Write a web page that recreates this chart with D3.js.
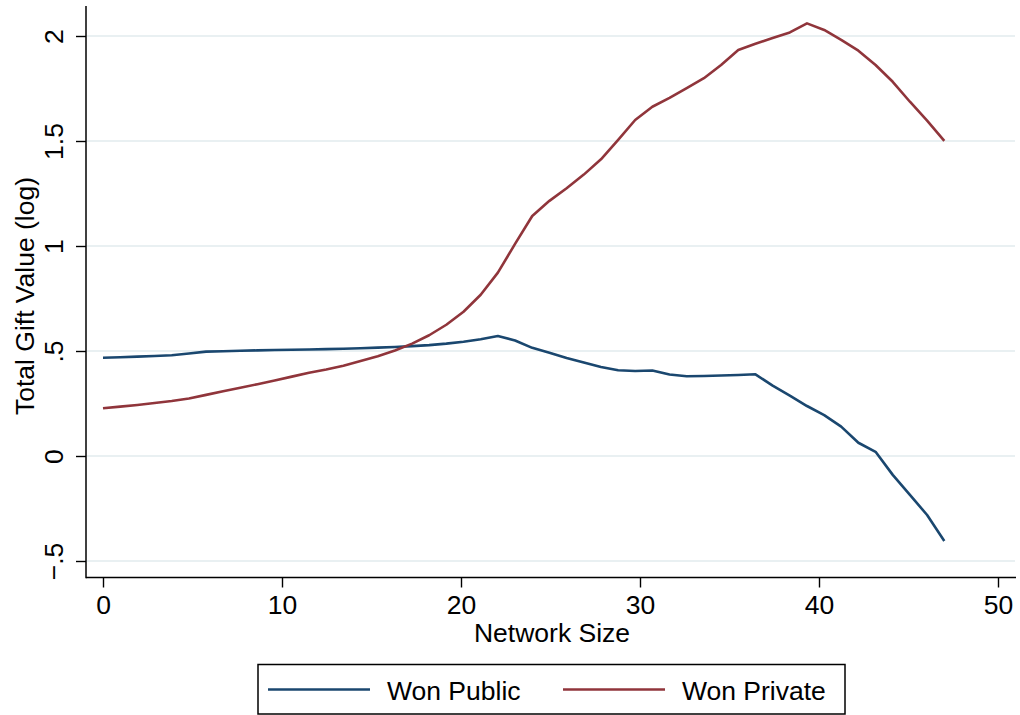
<!DOCTYPE html>
<html>
<head>
<meta charset="utf-8">
<script src="https://cdn.jsdelivr.net/npm/d3@7/dist/d3.min.js"></script>
<style>
  html, body { margin: 0; padding: 0; background: #fff; }
  svg { display: block; }
  text { font-family: "Liberation Sans", Arial, Helvetica, sans-serif; fill: #000; }
</style>
</head>
<body>
<svg id="chart" width="1020" height="715"></svg>
<script>
// Smoothed total gift value (log) by network size, evaluated on a 50-point grid
const networkSize = [
  0.00, 0.96, 1.92, 2.88, 3.84, 4.80, 5.76, 6.71, 7.67, 8.63,
  9.59, 10.55, 11.51, 12.47, 13.43, 14.39, 15.35, 16.31, 17.27, 18.22,
  19.18, 20.14, 21.10, 22.06, 23.02, 23.98, 24.94, 25.90, 26.86, 27.82,
  28.78, 29.73, 30.69, 31.65, 32.61, 33.57, 34.53, 35.49, 36.45, 37.41,
  38.37, 39.33, 40.29, 41.24, 42.20, 43.16, 44.12, 45.08, 46.04, 47.00
];

const wonPublic = [
  0.468, 0.470, 0.473, 0.476, 0.480, 0.488, 0.497, 0.499, 0.501, 0.503,
  0.505, 0.506, 0.507, 0.509, 0.511, 0.513, 0.516, 0.519, 0.523, 0.528,
  0.535, 0.544, 0.556, 0.571, 0.550, 0.515, 0.492, 0.467, 0.445, 0.424,
  0.408, 0.405, 0.407, 0.388, 0.380, 0.381, 0.383, 0.386, 0.389, 0.335,
  0.288, 0.238, 0.195, 0.140, 0.063, 0.020, -0.090, -0.185, -0.281, -0.405
];

const wonPrivate = [
  0.227, 0.235, 0.243, 0.252, 0.262, 0.274, 0.291, 0.308, 0.325, 0.342,
  0.360, 0.378, 0.396, 0.412, 0.430, 0.452, 0.475, 0.502, 0.535, 0.575,
  0.625, 0.687, 0.768, 0.873, 1.010, 1.143, 1.215, 1.275, 1.340, 1.413,
  1.505, 1.600, 1.663, 1.705, 1.752, 1.799, 1.862, 1.933, 1.963, 1.990,
  2.017, 2.060, 2.029, 1.982, 1.930, 1.862, 1.782, 1.687, 1.597, 1.501
];

const seriesNames = ["Won Public", "Won Private"];
const seriesColors = ["#1a476f", "#90353b"];

const xTicks = [0, 10, 20, 30, 40, 50];
const yTicks = [-0.5, 0, 0.5, 1, 1.5, 2];
const yTickLabels = ["\u2212.5", "0", ".5", "1", "1.5", "2"];

const xTitle = "Network Size";
const yTitle = "Total Gift Value (log)";

const FONT = 26.5;

const svg = d3.select("#chart");

// plot region edges (axis lines)
const axisLeft = 86, axisBottom = 577.5, axisTop = 6, axisRight = 1016;

const x = d3.scaleLinear().domain([0, 50]).range([103, 998]);
const y = d3.scaleLinear().domain([-0.5, 2]).range([561, 36]);

// horizontal gridlines
svg.append("g")
  .selectAll("line")
  .data(yTicks)
  .join("line")
  .attr("x1", axisLeft + 1).attr("x2", axisRight - 1)
  .attr("y1", d => y(d)).attr("y2", d => y(d))
  .attr("stroke", "#e9f0f2")
  .attr("stroke-width", 2);

// y axis
const yAxis = svg.append("g")
  .attr("transform", `translate(${axisLeft},0)`)
  .call(d3.axisLeft(y).tickValues(yTicks).tickSize(10).tickFormat((d, i) => yTickLabels[i]));
yAxis.select(".domain").remove();
yAxis.selectAll(".tick line").attr("stroke", "#000").attr("stroke-width", 1.4);
yAxis.selectAll(".tick text")
  .attr("font-size", FONT)
  .attr("font-family", "Liberation Sans, Arial, sans-serif")
  .attr("text-anchor", "middle")
  .attr("dy", null)
  .attr("x", null)
  .attr("transform", "translate(-23,0) rotate(-90)")
  .attr("y", 0);
svg.append("line")
  .attr("x1", axisLeft).attr("x2", axisLeft)
  .attr("y1", axisTop).attr("y2", axisBottom + 0.7)
  .attr("stroke", "#000").attr("stroke-width", 1.5);

// x axis
const xAxis = svg.append("g")
  .attr("transform", `translate(0,${axisBottom})`)
  .call(d3.axisBottom(x).tickValues(xTicks).tickSize(10).tickFormat(d3.format("d")));
xAxis.select(".domain").remove();
xAxis.selectAll(".tick line").attr("stroke", "#000").attr("stroke-width", 1.4);
xAxis.selectAll(".tick text")
  .attr("font-size", FONT)
  .attr("font-family", "Liberation Sans, Arial, sans-serif")
  .attr("dy", null)
  .attr("y", 36);
svg.append("line")
  .attr("x1", axisLeft).attr("x2", axisRight)
  .attr("y1", axisBottom).attr("y2", axisBottom)
  .attr("stroke", "#000").attr("stroke-width", 1.5);

// axis titles
svg.append("text")
  .attr("x", 552).attr("y", 641.5)
  .attr("text-anchor", "middle")
  .attr("font-size", FONT)
  .text(xTitle);

svg.append("text")
  .attr("transform", "translate(33.5,296) rotate(-90)")
  .attr("text-anchor", "middle")
  .attr("font-size", FONT)
  .text(yTitle);

// series lines
const series = [wonPublic, wonPrivate];
const line = d3.line()
  .x((d, i) => x(networkSize[i]))
  .y(d => y(d));

svg.append("g")
  .selectAll("path")
  .data(series)
  .join("path")
  .attr("d", d => line(d))
  .attr("fill", "none")
  .attr("stroke", (d, i) => seriesColors[i])
  .attr("stroke-width", 2.6)
  .attr("stroke-linejoin", "round");

// legend
const legend = svg.append("g");
legend.append("rect")
  .attr("x", 258).attr("y", 664.5)
  .attr("width", 587).attr("height", 49.5)
  .attr("fill", "#fff")
  .attr("stroke", "#000").attr("stroke-width", 1.5);

const legendX = [268, 563];
seriesNames.forEach((name, i) => {
  legend.append("line")
    .attr("x1", legendX[i]).attr("x2", legendX[i] + 102)
    .attr("y1", 689.5).attr("y2", 689.5)
    .attr("stroke", seriesColors[i])
    .attr("stroke-width", 2.6);
  legend.append("text")
    .attr("x", legendX[i] + 119).attr("y", 700)
    .attr("font-size", FONT)
    .text(name);
});
</script>
</body>
</html>
